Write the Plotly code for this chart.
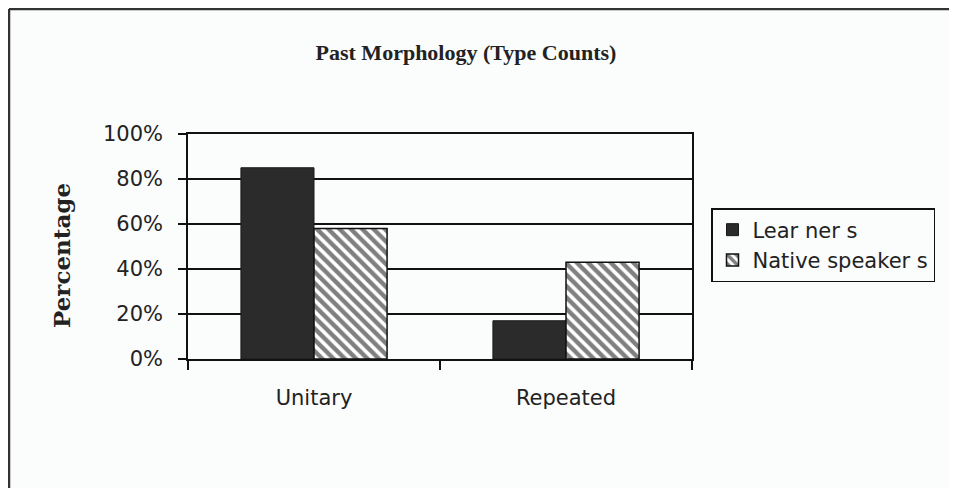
import plotly.graph_objects as go

categories = ["Unitary", "Repeated"]
learners = [85, 17]
native_speakers = [58, 43]
y_ticks = [0, 20, 40, 60, 80, 100]
y_tick_labels = ["0%", "20%", "40%", "60%", "80%", "100%"]

# page body has an 8px margin; work in page pixel coordinates and shift
OFF = 8
W, H = 957 - 2 * OFF, 496 - 2 * OFF
PL, PR, PT, PB = 188, 692, 134, 359  # plot area in page pixels
L, T = PL - OFF, PT - OFF
R = W - (PR - OFF)
B = H - (PB - OFF)
pw, ph = PR - PL, PB - PT

def px_x(p):
    return (p - PL) / pw

def px_y(p):
    return (PB - p) / ph

sans = "DejaVu Sans"
fig = go.Figure()
fig.add_trace(go.Bar(
    x=categories, y=learners, name="Lear ner s",
    marker=dict(color="#2b2b2b", line=dict(color="#1a1a1a", width=1)),
))
fig.add_trace(go.Bar(
    x=categories, y=native_speakers, name="Native speaker s",
    marker=dict(color="white", line=dict(color="#111", width=1.5),
                pattern=dict(shape="\\", fgcolor="#000", bgcolor="white",
                             size=8, solidity=0.55)),
))

fig.update_layout(
    width=W, height=H,
    margin=dict(l=L, r=R, t=T, b=B),
    paper_bgcolor="#fbfcfc", plot_bgcolor="#fbfcfc",
    barmode="group", bargap=0.42, bargroupgap=0,
    showlegend=True,
    title=dict(text="<b>Past Morphology (Type Counts)</b>",
               x=(466 - OFF) / W, xref="container", xanchor="center",
               y=1 - (52 - OFF) / H, yanchor="middle",
               font=dict(family="Liberation Serif", size=22, color="#222")),
    legend=dict(x=px_x(711), y=px_y(208), xanchor="left", yanchor="top",
                bgcolor="#fbfcfc", bordercolor="#111", borderwidth=1.5,
                font=dict(family=sans, size=21, color="#222"),
                itemwidth=30, tracegroupgap=6),
    font=dict(family=sans, size=21, color="#222"),
)

fig.update_yaxes(
    range=[0, 100], tickvals=y_ticks, ticktext=y_tick_labels,
    showline=True, linecolor="#111", linewidth=1.5, mirror=True,
    showgrid=True, gridcolor="#111", gridwidth=1.5,
    ticks="outside", ticklen=8, tickcolor="#111", tickwidth=1.5,
    ticklabelstandoff=11, zeroline=False,
    tickfont=dict(family=sans, size=21, color="#222"),
)
fig.update_xaxes(
    showline=True, linecolor="#111", linewidth=1.5, mirror=True,
    ticks="outside", tickson="boundaries", ticklen=9, tickcolor="#111",
    tickwidth=1.5, ticklabelstandoff=19,
    tickfont=dict(family=sans, size=21, color="#222"),
)

fig.add_annotation(
    text="<b>Percentage</b>", textangle=-90,
    x=px_x(61), y=px_y(256), xref="paper", yref="paper",
    showarrow=False, xanchor="center", yanchor="middle",
    font=dict(family="DejaVu Serif", size=23, color="#222"),
)

# outer frame (left and top edges)
fig.add_shape(type="line", xref="paper", yref="paper",
              x0=px_x(9), x1=px_x(9), y0=px_y(9), y1=px_y(500),
              line=dict(color="#333", width=2.5))
fig.add_shape(type="line", xref="paper", yref="paper",
              x0=px_x(9), x1=px_x(960), y0=px_y(9), y1=px_y(9),
              line=dict(color="#333", width=2.5))

fig.write_html("out.html")
